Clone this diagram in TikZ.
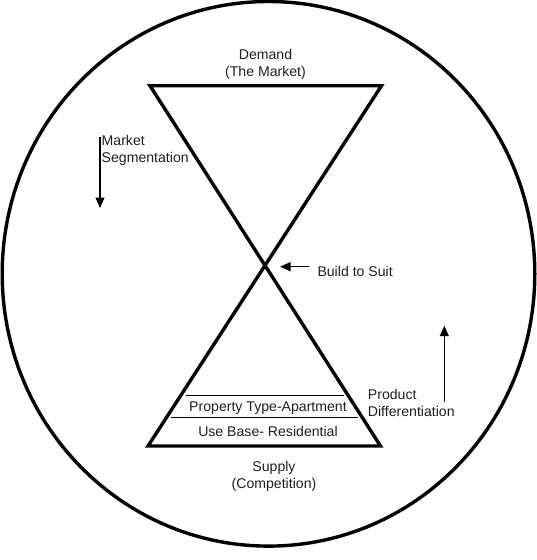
\documentclass[tikz,border=0pt]{standalone}
\usepackage{fontspec}
\setmainfont{Liberation Sans}
\usetikzlibrary{arrows.meta}
\begin{document}
\begin{tikzpicture}[x=1pt,y=-1pt,
  lbl/.style={inner sep=0pt,font=\fontsize{14.1}{17.4}\selectfont,text=black!88},
  thick3/.style={line width=3.4pt},
  thinline/.style={line width=1.2pt},
  arr/.style={line width=1.1pt,-{Triangle[length=10.5pt,width=9pt]}}]
\useasboundingbox (0,0) rectangle (537,560);
\draw[thick3] (268.5,273.8) ellipse [x radius=266.3, y radius=272.3];
\coordinate (tl) at (150,85.7);
\coordinate (tr) at (381.5,85.7);
\coordinate (bl) at (148,446);
\coordinate (br) at (380.5,446);
\draw[thick3] (tl) -- (tr) -- (bl) -- (br) -- cycle;
\coordinate (l1a) at (185.7,395.7); \coordinate (l1b) at (344,395.7);
\coordinate (l2a) at (170.7,417.7); \coordinate (l2b) at (358.3,417.7);
\draw[thinline] (l1a) -- (l1b);
\draw[thinline] (l2a) -- (l2b);
\node[lbl,align=center] (demand) at (265.5,64.5) {Demand\\(The Market)};
\node[lbl,align=center] (supply) at (274,476.5) {Supply\\(Competition)};
\node[lbl] (prop) at (268,408.5) {Property Type-Apartment};
\node[lbl] (use) at (268,431) {Use Base- Residential};
\node[lbl,align=left,anchor=west] (seg) at (101.5,150.4) {Market\\Segmentation};
\node[lbl,anchor=west] (bts) at (317.3,271.7) {Build to Suit};
\node[lbl,align=left,anchor=west] (pd) at (367.7,403) {Product\\Differentiation};
\coordinate (sa) at (100,136.7); \coordinate (sb) at (100,208);
\draw[arr] (sa) -- (sb);
\coordinate (ba) at (309,266.7); \coordinate (bb) at (280,266.7);
\draw[arr] (ba) -- (bb);
\coordinate (pa) at (444.3,401.7); \coordinate (pb) at (444.3,325.7);
\draw[arr] (pa) -- (pb);
\end{tikzpicture}
\end{document}
